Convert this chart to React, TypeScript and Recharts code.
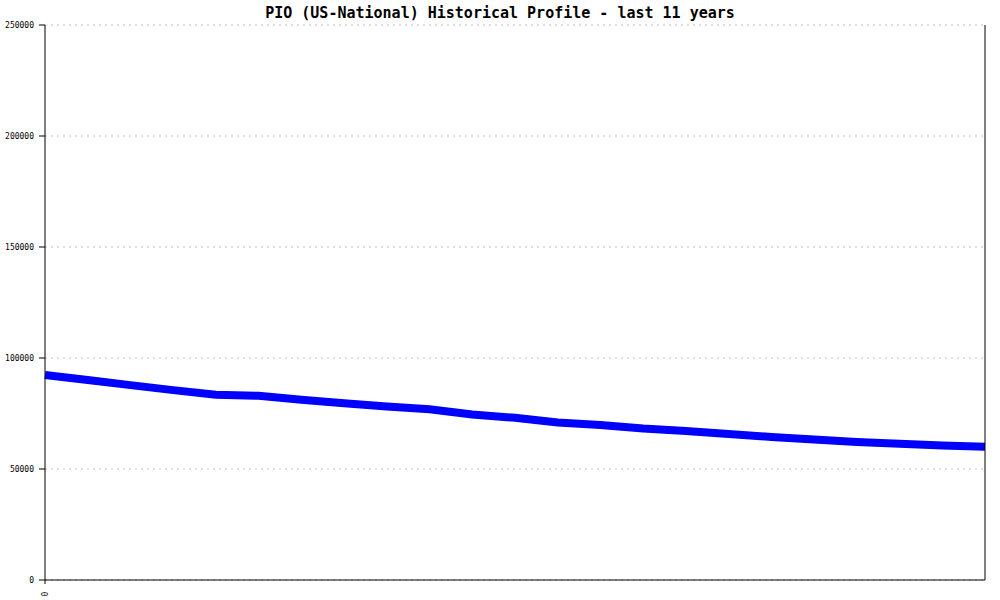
import { LineChart, Line, XAxis, YAxis, CartesianGrid } from "recharts";

// half-year samples across the 11-year window
const periods = [
  0, 1, 2, 3, 4, 5, 6, 7, 8, 9, 10, 11, 12, 13, 14, 15, 16, 17, 18, 19, 20, 21, 22,
];
const members = [
  92340, 90090, 87790, 85540, 83420, 82970, 81170, 79640, 78150, 76890, 74550, 73060,
  70940, 69820, 68200, 67120, 65770, 64410, 63290, 62160, 61400, 60630, 60040,
];
const yTicks = [0, 50000, 100000, 150000, 200000, 250000];
const xTicks = [0];

const data = periods.map((p, i) => ({ period: p, value: members[i] }));

const mono = "'DejaVu Sans Mono', 'Liberation Mono', monospace";

const XTick = (props: any) => {
  const { x, y, payload } = props;
  return (
    <text
      x={x}
      y={y + 8}
      transform={`rotate(-90, ${x}, ${y + 8})`}
      textAnchor="middle"
      dominantBaseline="central"
      fontSize={8}
      fontFamily={mono}
      fill="#000"
    >
      {payload.value}
    </text>
  );
};

export default function App() {
  return (
    <div style={{ position: "absolute", left: 0, top: 0, width: 1000, height: 600, background: "#fff" }}>
      <div
        style={{
          position: "absolute",
          left: 0,
          top: 4,
          width: 1000,
          textAlign: "center",
          fontFamily: mono,
          fontSize: 15,
          fontWeight: "bold",
          color: "#000",
          lineHeight: "18px",
        }}
      >
        PIO (US-National) Historical Profile - last 11 years
      </div>
      <LineChart width={1000} height={600} data={data} margin={{ top: 25, right: 0, bottom: 0, left: 0 }}>
        <CartesianGrid vertical={false} stroke="#c0c0c0" strokeDasharray="2 4" yAxisId="left" />
        <XAxis
          dataKey="period"
          type="number"
          domain={[0, periods.length - 1]}
          ticks={xTicks}
          height={20}
          axisLine={{ stroke: "#000" }}
          tickLine={{ stroke: "#000" }}
          tickSize={4}
          tick={<XTick />}
          interval={0}
        />
        <YAxis
          yAxisId="left"
          domain={[0, 250000]}
          ticks={yTicks}
          width={45}
          axisLine={{ stroke: "#000" }}
          tickLine={{ stroke: "#000" }}
          tickSize={6}
          tickMargin={5}
          tick={{ fontSize: 8, fontFamily: mono, fill: "#000" }}
          interval={0}
        />
        <YAxis
          yAxisId="right"
          orientation="right"
          domain={[0, 250000]}
          width={15}
          tick={false}
          tickLine={false}
          axisLine={{ stroke: "#000" }}
        />
        <Line
          yAxisId="left"
          type="linear"
          dataKey="value"
          stroke="#0000ff"
          strokeWidth={8}
          dot={false}
          isAnimationActive={false}
        />
      </LineChart>
    </div>
  );
}
